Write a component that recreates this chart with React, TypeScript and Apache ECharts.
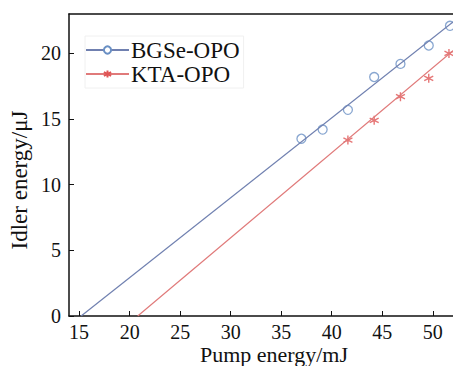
import React, { useEffect, useRef } from "react";
import * as echarts from "echarts";

const bgseX = [37.0, 39.1, 41.6, 44.2, 46.8, 49.6, 51.7];
const bgseY = [13.5, 14.2, 15.7, 18.2, 19.2, 20.6, 22.1];
const ktaX = [41.6, 44.2, 46.8, 49.6, 51.6];
const ktaY = [13.4, 14.9, 16.7, 18.1, 20.0];
const bgseFitX = [15.2, 52];
const bgseFitY = [0, 22.4];
const ktaFitX = [20.8, 52];
const ktaFitY = [0, 20.2];
const xTicks = [15, 20, 25, 30, 35, 40, 45, 50];
const yTicks = [0, 5, 10, 15, 20];

const pairs = (xs: number[], ys: number[]) => xs.map((x, i) => [x, ys[i]]);

const STAR = "path://M0,-5L0,5M-4.33,-2.5L4.33,2.5M-4.33,2.5L4.33,-2.5";
const FONT = "Liberation Serif";
const BLUE_LINE = "#7080b0";
const BLUE_PT = "#6a90c4";
const RED_LINE = "#e07a7a";
const RED_PT = "#e05555";

export default function App() {
  const ref = useRef<HTMLDivElement>(null);
  useEffect(() => {
    if (!ref.current) return;
    const chart = echarts.init(ref.current, undefined, { renderer: "svg" });
    chart.setOption({
      animation: false,
      grid: { left: 69, top: 14, right: 0, bottom: 50, outerBoundsMode: "none", containLabel: false },
      legend: {
        orient: "vertical",
        left: 85,
        top: 36,
        itemWidth: 43,
        itemHeight: 9,
        itemGap: 0,
        padding: [2, 4, 2, 0],
        borderColor: "#f0f0f0",
        borderWidth: 1,
        data: ["BGSe-OPO", "KTA-OPO"],
        textStyle: { fontFamily: FONT, fontSize: 23, lineHeight: 24, color: "#111", padding: [0, 0, 0, -3] },
      },
      xAxis: [
        {
          type: "value",
          min: 14,
          max: 52,
          name: "Pump energy/mJ",
          nameLocation: "middle",
          nameGap: 28,
          nameMoveOverlap: false,
          nameTextStyle: { fontFamily: FONT, fontSize: 22, lineHeight: 20, color: "#111", padding: [0, 0, 0, 26] },
          axisLine: { lineStyle: { color: "#111", width: 1.5 } },
          axisTick: { inside: true, length: 5, customValues: xTicks, lineStyle: { color: "#111" } },
          axisLabel: { customValues: xTicks, fontFamily: FONT, fontSize: 20, lineHeight: 18, color: "#111", margin: 7 },
          splitLine: { show: false },
        },
        {
          type: "value",
          position: "top",
          min: 14,
          max: 52,
          axisLine: { show: true, lineStyle: { color: "#111", width: 1.5 } },
          axisTick: { show: false },
          axisLabel: { show: false },
          splitLine: { show: false },
        },
      ],
      yAxis: {
        type: "value",
        min: 0,
        max: 23,
        name: "Idler energy/μJ",
        nameLocation: "middle",
        nameGap: 38,
        nameMoveOverlap: false,
        nameTextStyle: { fontFamily: FONT, fontSize: 23, color: "#111", padding: [0, 30, 0, 0] },
        axisLine: { show: true, lineStyle: { color: "#111", width: 1.5 } },
        axisTick: { show: true, inside: true, length: 5, customValues: yTicks, lineStyle: { color: "#111" } },
        axisLabel: { customValues: yTicks, fontFamily: FONT, fontSize: 20, color: "#111", margin: 8 },
        splitLine: { show: false },
      },
      series: [
        {
          name: "BGSe-OPO",
          type: "line",
          data: pairs(bgseFitX, bgseFitY),
          symbol: "emptyCircle",
          showSymbol: false,
          lineStyle: { color: BLUE_LINE, width: 1.2 },
          itemStyle: { color: BLUE_PT, borderColor: BLUE_PT, borderWidth: 1.2 },
        },
        {
          name: "BGSe-OPO",
          type: "scatter",
          data: pairs(bgseX, bgseY),
          symbol: "circle",
          symbolSize: 9,
          itemStyle: { color: "rgba(255,255,255,0)", borderColor: BLUE_PT, borderWidth: 1.3 },
        },
        {
          name: "KTA-OPO",
          type: "line",
          data: pairs(ktaFitX, ktaFitY),
          symbol: STAR,
          symbolSize: 8,
          showSymbol: false,
          lineStyle: { color: RED_LINE, width: 1.2 },
          itemStyle: { color: "rgba(0,0,0,0)", borderColor: RED_PT, borderWidth: 1.3 },
        },
        {
          name: "KTA-OPO",
          type: "scatter",
          data: pairs(ktaX, ktaY),
          symbol: STAR,
          symbolSize: 9,
          itemStyle: { color: "rgba(0,0,0,0)", borderColor: RED_PT, borderWidth: 1.4 },
        },
      ],
    });
    return () => chart.dispose();
  }, []);
  return <div ref={ref} style={{ width: 453, height: 366, position: "absolute", left: 0, top: 0 }} />;
}
